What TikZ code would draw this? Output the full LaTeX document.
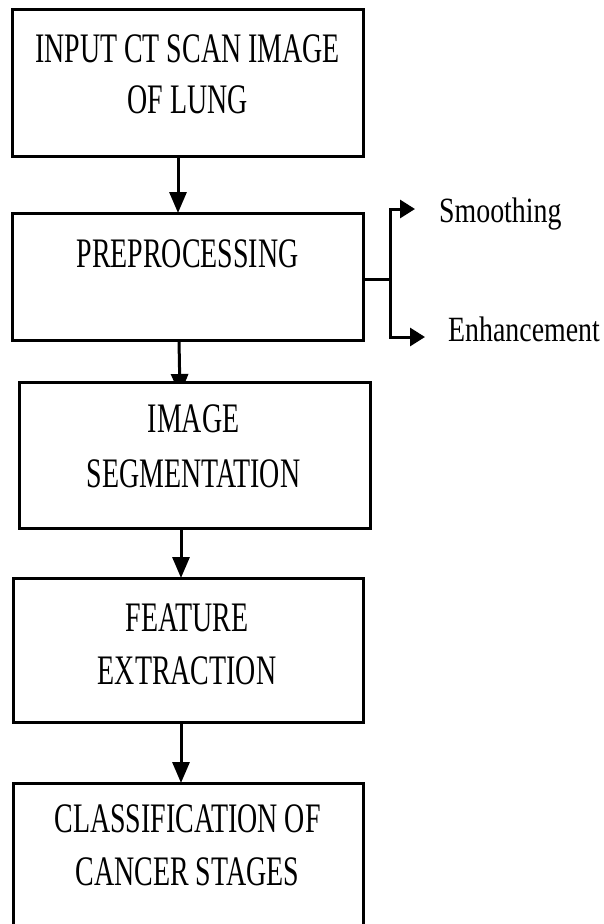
\documentclass[tikz,border=0pt]{standalone}
\usepackage{fontspec}
\setmainfont{Liberation Serif}
\newfontfamily\boxfont[FakeStretch=0.665]{Liberation Serif}
\newfontfamily\sidefont[FakeStretch=0.785]{Liberation Serif}
\usetikzlibrary{arrows.meta,backgrounds}

\begin{document}
\begin{tikzpicture}[x=1pt,y=-1pt,
  box/.style={draw, line width=3pt, fill=white, inner sep=0pt, outer sep=0pt},
  lbl/.style={font=\boxfont\fontsize{42}{50}\selectfont, anchor=base, inner sep=0pt},
  side/.style={font=\sidefont\fontsize{35.5}{42}\selectfont, anchor=base west, inner sep=0pt},
  arr/.style={line width=3pt, -{Triangle[length=21pt,width=17pt]}},
  sarr/.style={line width=3pt, -{Triangle[length=15pt,width=18pt]}},
  conn/.style={line width=3pt}]
\useasboundingbox (0,0) rectangle (603,924);
\clip (0,0) rectangle (603,924);

% boxes
\node[box, minimum width=351pt, minimum height=147pt] (b1) at (187.5,82.5) {};
\node[box, minimum width=351pt, minimum height=127pt] (b2) at (187.5,276.5) {};
\node[box, minimum width=351pt, minimum height=146pt] (b3) at (194.5,455) {};
\node[box, minimum width=350pt, minimum height=144pt] (b4) at (188,650) {};
\node[box, minimum width=350pt, minimum height=180pt] (b5) at (188,873) {};

% texts
\node[lbl] (t1a) at (187.5,62) {INPUT CT SCAN IMAGE};
\node[lbl] (t1b) at (187.5,113) {OF LUNG};
\node[lbl] (t2) at (187.5,267) {PREPROCESSING};
\node[lbl] (t3a) at (193.5,432) {IMAGE};
\node[lbl] (t3b) at (193.5,487) {SEGMENTATION};
\node[lbl] (t4a) at (187,631) {FEATURE};
\node[lbl] (t4b) at (187,684) {EXTRACTION};
\node[lbl] (t5a) at (187.5,832) {CLASSIFICATION OF};
\node[lbl] (t5b) at (187.5,885) {CANCER STAGES};

\node[side] (sm) at (439,222) {Smoothing};
\node[side] (en) at (448,341) {Enhancement};

% main flow
\draw[arr] ([xshift=-9.5pt]b1.south) -- ([xshift=-9.5pt]b2.north);
\begin{scope}[on background layer]
\draw[arr] ([xshift=-8.5pt]b2.south) -- ([xshift=-14.5pt,yshift=-13pt]b3.north);
\end{scope}
\draw[arr] ([xshift=-13.5pt]b3.south) -- ([xshift=-7pt]b4.north);
\draw[arr] ([xshift=-7pt]b4.south) -- ([xshift=-7pt]b5.north);

% side branch
\coordinate (j) at (390,279);
\coordinate (sa) at (415,209);
\coordinate (ea) at (425,337);
\draw[conn] (b2.east |- j) -- (j);
\draw[sarr] (j) |- (sa);
\draw[sarr] (j) |- (ea);
\end{tikzpicture}
\end{document}
